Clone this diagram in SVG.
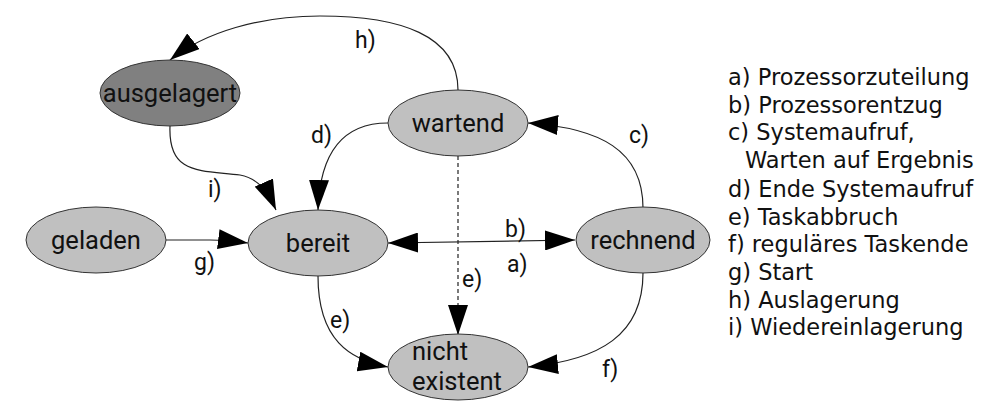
<svg xmlns="http://www.w3.org/2000/svg" width="1008" height="419" viewBox="0 0 1008 419">
<style>
.node ellipse{fill:#c0c0c0;stroke:#333;stroke-width:1}
.node text{font-family:Roboto,"Liberation Sans",sans-serif;font-size:25.5px;fill:#111;text-anchor:middle}
.edge{fill:none;stroke:#222;stroke-width:1.2;marker-end:url(#ah)}
.lbl{font-family:Roboto,"Liberation Sans",sans-serif;font-size:23px;fill:#111}
.legend{font-family:"DejaVu Sans","Noto Sans",sans-serif;font-size:22.5px;fill:#111}
</style>
<defs>
<marker id="ah" viewBox="0 0 30 20" refX="30" refY="10" markerWidth="30" markerHeight="20" markerUnits="userSpaceOnUse" orient="auto-start-reverse">
<path d="M0,0 L30,10 L0,20 Z" fill="#000"/>
</marker>
</defs>
<rect width="1008" height="419" fill="#fff"/>
<g id="connectors">
<path class="edge" d="M458,90 C458,35 400,16 320,16 C260,16 205,32 170,60"/>
<path class="edge" d="M170,126 C168,175 200,170 240,175 C258,178 268,192 276,210"/>
<path class="edge" d="M388,123 C345,123 320,150 318,210"/>
<path class="edge" d="M166,240 L210,240 Q225,240 248,243"/>
<path class="edge" d="M388,243 L575,240" style="marker-start:url(#ah)"/>
<path class="edge" d="M643,208 C643,150 600,128 528,123"/>
<path class="edge" d="M643,273 C643,335 600,360 528,367"/>
<path class="edge" d="M458,156 L458,335" style="stroke-dasharray:4,3"/>
<path class="edge" d="M318,276 C318,340 350,360 388,367"/>
<text class="lbl" x="355" y="48">h)</text>
<text class="lbl" x="208" y="197">i)</text>
<text class="lbl" x="311" y="143">d)</text>
<text class="lbl" x="194" y="270">g)</text>
<text class="lbl" x="505" y="237">b)</text>
<text class="lbl" x="507" y="272">a)</text>
<text class="lbl" x="629" y="143">c)</text>
<text class="lbl" x="602" y="377">f)</text>
<text class="lbl" x="462" y="287">e)</text>
<text class="lbl" x="330" y="328">e)</text>
</g>
<g id="ausgelagert" class="node"><ellipse cx="170" cy="93" rx="70" ry="33" style="fill:#808080"/><text x="170" y="102">ausgelagert</text></g>
<g id="wartend" class="node"><ellipse cx="458" cy="123" rx="70" ry="33"/><text x="458" y="132">wartend</text></g>
<g id="geladen" class="node"><ellipse cx="96" cy="240" rx="70" ry="33"/><text x="96" y="249">geladen</text></g>
<g id="bereit" class="node"><ellipse cx="318" cy="243" rx="70" ry="33"/><text x="318" y="252">bereit</text></g>
<g id="rechnend" class="node"><ellipse cx="643" cy="240" rx="67" ry="33"/><text x="643" y="249">rechnend</text></g>
<g id="nicht-existent" class="node"><ellipse cx="458" cy="367" rx="70" ry="33"/><text x="412" y="360" style="text-anchor:start">nicht</text><text x="412" y="390" style="text-anchor:start">existent</text></g>
<g id="legende" class="legend">
<text x="728" y="85">a) Prozessorzuteilung</text>
<text x="728" y="113">b) Prozessorentzug</text>
<text x="728" y="140">c) Systemaufruf,</text>
<text x="745" y="168">Warten auf Ergebnis</text>
<text x="728" y="197">d) Ende Systemaufruf</text>
<text x="728" y="225">e) Taskabbruch</text>
<text x="728" y="252">f) reguläres Taskende</text>
<text x="728" y="280">g) Start</text>
<text x="728" y="308">h) Auslagerung</text>
<text x="728" y="335">i) Wiedereinlagerung</text>
</g>
</svg>
